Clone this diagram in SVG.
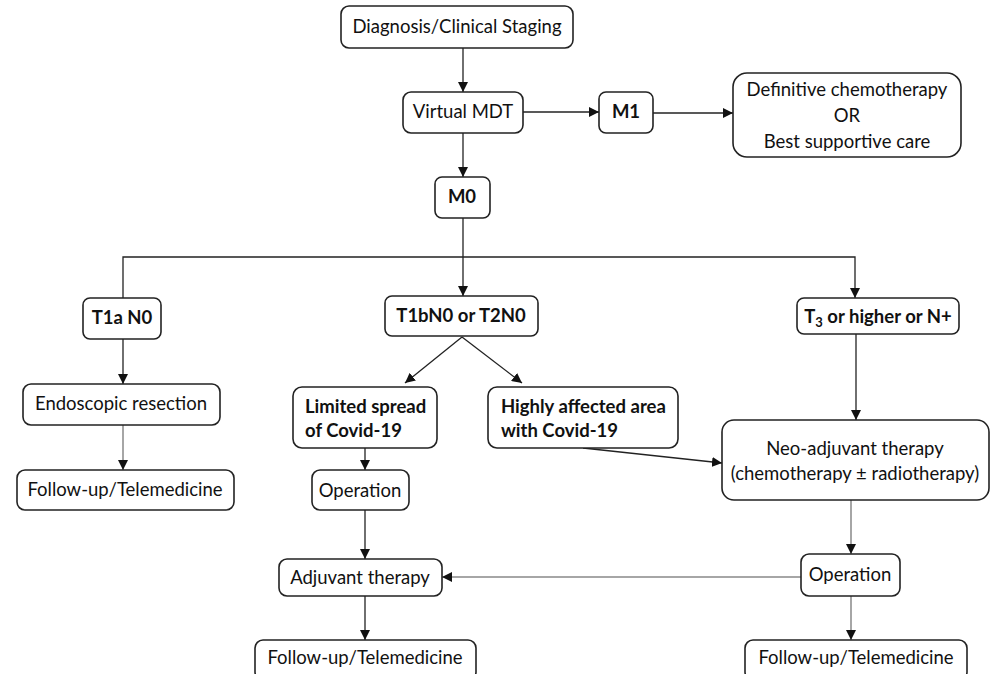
<svg xmlns="http://www.w3.org/2000/svg" width="990" height="674" viewBox="0 0 990 674">
<defs>
<marker id="ah" viewBox="0 0 10 10" refX="10" refY="5" markerWidth="10" markerHeight="10" markerUnits="userSpaceOnUse" orient="auto">
<path d="M0,0 L10,5 L0,10 z" fill="#111"/>
</marker>
</defs>
<style>
.b{fill:#fff;stroke:#222;stroke-width:1.6}
.t{font-family:Lato,"Open Sans",sans-serif;font-size:18.5px;fill:#111;text-anchor:middle}
.s{text-anchor:start}
.bd{font-weight:bold}
.c{fill:none;stroke:#222;stroke-width:1.3}
.g{fill:none;stroke:#888;stroke-width:1.5}
</style>
<rect width="990" height="674" fill="#fff"/>
<g id="connectors">
<line class="c" x1="463" y1="48" x2="463" y2="92" marker-end="url(#ah)"/>
<line class="c" x1="523" y1="112" x2="599" y2="112" marker-end="url(#ah)"/>
<line class="c" x1="653" y1="113" x2="733" y2="113" marker-end="url(#ah)"/>
<line class="c" x1="463" y1="133" x2="463" y2="177" marker-end="url(#ah)"/>
<polyline class="c" points="463,218 463,296" marker-end="url(#ah)"/>
<polyline class="c" points="123,298 123,257 855,257 855,298" marker-end="url(#ah)"/>
<line class="c" x1="123" y1="339" x2="123" y2="384" marker-end="url(#ah)"/>
<line class="g" x1="123" y1="425" x2="123" y2="470" marker-end="url(#ah)"/>
<line class="c" x1="462" y1="337" x2="405" y2="383" marker-end="url(#ah)"/>
<line class="c" x1="462" y1="337" x2="522" y2="383" marker-end="url(#ah)"/>
<line class="c" x1="583" y1="448" x2="722" y2="463" marker-end="url(#ah)"/>
<line class="c" x1="856" y1="334" x2="856" y2="420" marker-end="url(#ah)"/>
<line class="c" x1="365" y1="448" x2="365" y2="470" marker-end="url(#ah)"/>
<line class="c" x1="365" y1="510" x2="365" y2="559" marker-end="url(#ah)"/>
<line class="g" x1="851" y1="500" x2="851" y2="554" marker-end="url(#ah)"/>
<line class="g" x1="801" y1="577" x2="442" y2="577" marker-end="url(#ah)"/>
<line class="c" x1="365" y1="596" x2="365" y2="640" marker-end="url(#ah)"/>
<line class="g" x1="851" y1="596" x2="851" y2="640" marker-end="url(#ah)"/>
</g>
<g id="diagnosis"><rect class="b" x="341" y="6" width="232" height="42" rx="8"/><text class="t" x="457" y="33">Diagnosis/Clinical Staging</text></g>
<g id="vmdt"><rect class="b" x="403" y="92" width="120" height="41" rx="8"/><text class="t" x="463" y="118">Virtual MDT</text></g>
<g id="m1"><rect class="b" x="599" y="92" width="54" height="41" rx="7"/><text class="t bd" x="626" y="118">M1</text></g>
<g id="definitive"><rect class="b" x="733" y="73" width="228" height="84" rx="14"/><text class="t" x="847" y="96">Definitive chemotherapy</text><text class="t" x="847" y="122">OR</text><text class="t" x="847" y="148">Best supportive care</text></g>
<g id="m0"><rect class="b" x="435" y="177" width="55" height="41" rx="7"/><text class="t bd" x="462" y="203">M0</text></g>
<g id="t1a"><rect class="b" x="83" y="298" width="78" height="41" rx="7"/><text class="t bd" x="122" y="324">T1a N0</text></g>
<g id="t1b"><rect class="b" x="385" y="296" width="153" height="40" rx="7"/><text class="t bd" x="461" y="322">T1bN0 or T2N0</text></g>
<g id="t3"><rect class="b" x="797" y="298" width="162" height="36" rx="7"/><text class="t bd" x="878" y="323">T<tspan font-size="13" dy="4">3</tspan><tspan dy="-4"> or higher or N+</tspan></text></g>
<g id="endoscopic"><rect class="b" x="23" y="384" width="197" height="41" rx="8"/><text class="t" x="121" y="410">Endoscopic resection</text></g>
<g id="followup1"><rect class="b" x="17" y="470" width="217" height="40" rx="8"/><text class="t" x="125" y="496">Follow-up/Telemedicine</text></g>
<g id="limited"><rect class="b" x="293" y="387" width="144" height="61" rx="9"/><text class="t bd s" x="305" y="413">Limited spread</text><text class="t bd s" x="305" y="437">of Covid-19</text></g>
<g id="highly"><rect class="b" x="488" y="387" width="190" height="61" rx="9"/><text class="t bd s" x="501" y="413">Highly affected area</text><text class="t bd s" x="501" y="437">with Covid-19</text></g>
<g id="neo"><rect class="b" x="722" y="420" width="267" height="80" rx="12"/><text class="t" x="855" y="455">Neo-adjuvant therapy</text><text class="t" x="855" y="480">(chemotherapy ± radiotherapy)</text></g>
<g id="operation1"><rect class="b" x="312" y="470" width="97" height="40" rx="8"/><text class="t" x="360" y="497">Operation</text></g>
<g id="adjuvant"><rect class="b" x="279" y="559" width="163" height="37" rx="8"/><text class="t" x="360" y="584">Adjuvant therapy</text></g>
<g id="operation2"><rect class="b" x="801" y="554" width="99" height="42" rx="8"/><text class="t" x="850" y="581">Operation</text></g>
<g id="followup2"><rect class="b" x="255" y="640" width="221" height="40" rx="8"/><text class="t" x="365" y="664">Follow-up/Telemedicine</text></g>
<g id="followup3"><rect class="b" x="745" y="640" width="222" height="40" rx="8"/><text class="t" x="856" y="664">Follow-up/Telemedicine</text></g>
</svg>
